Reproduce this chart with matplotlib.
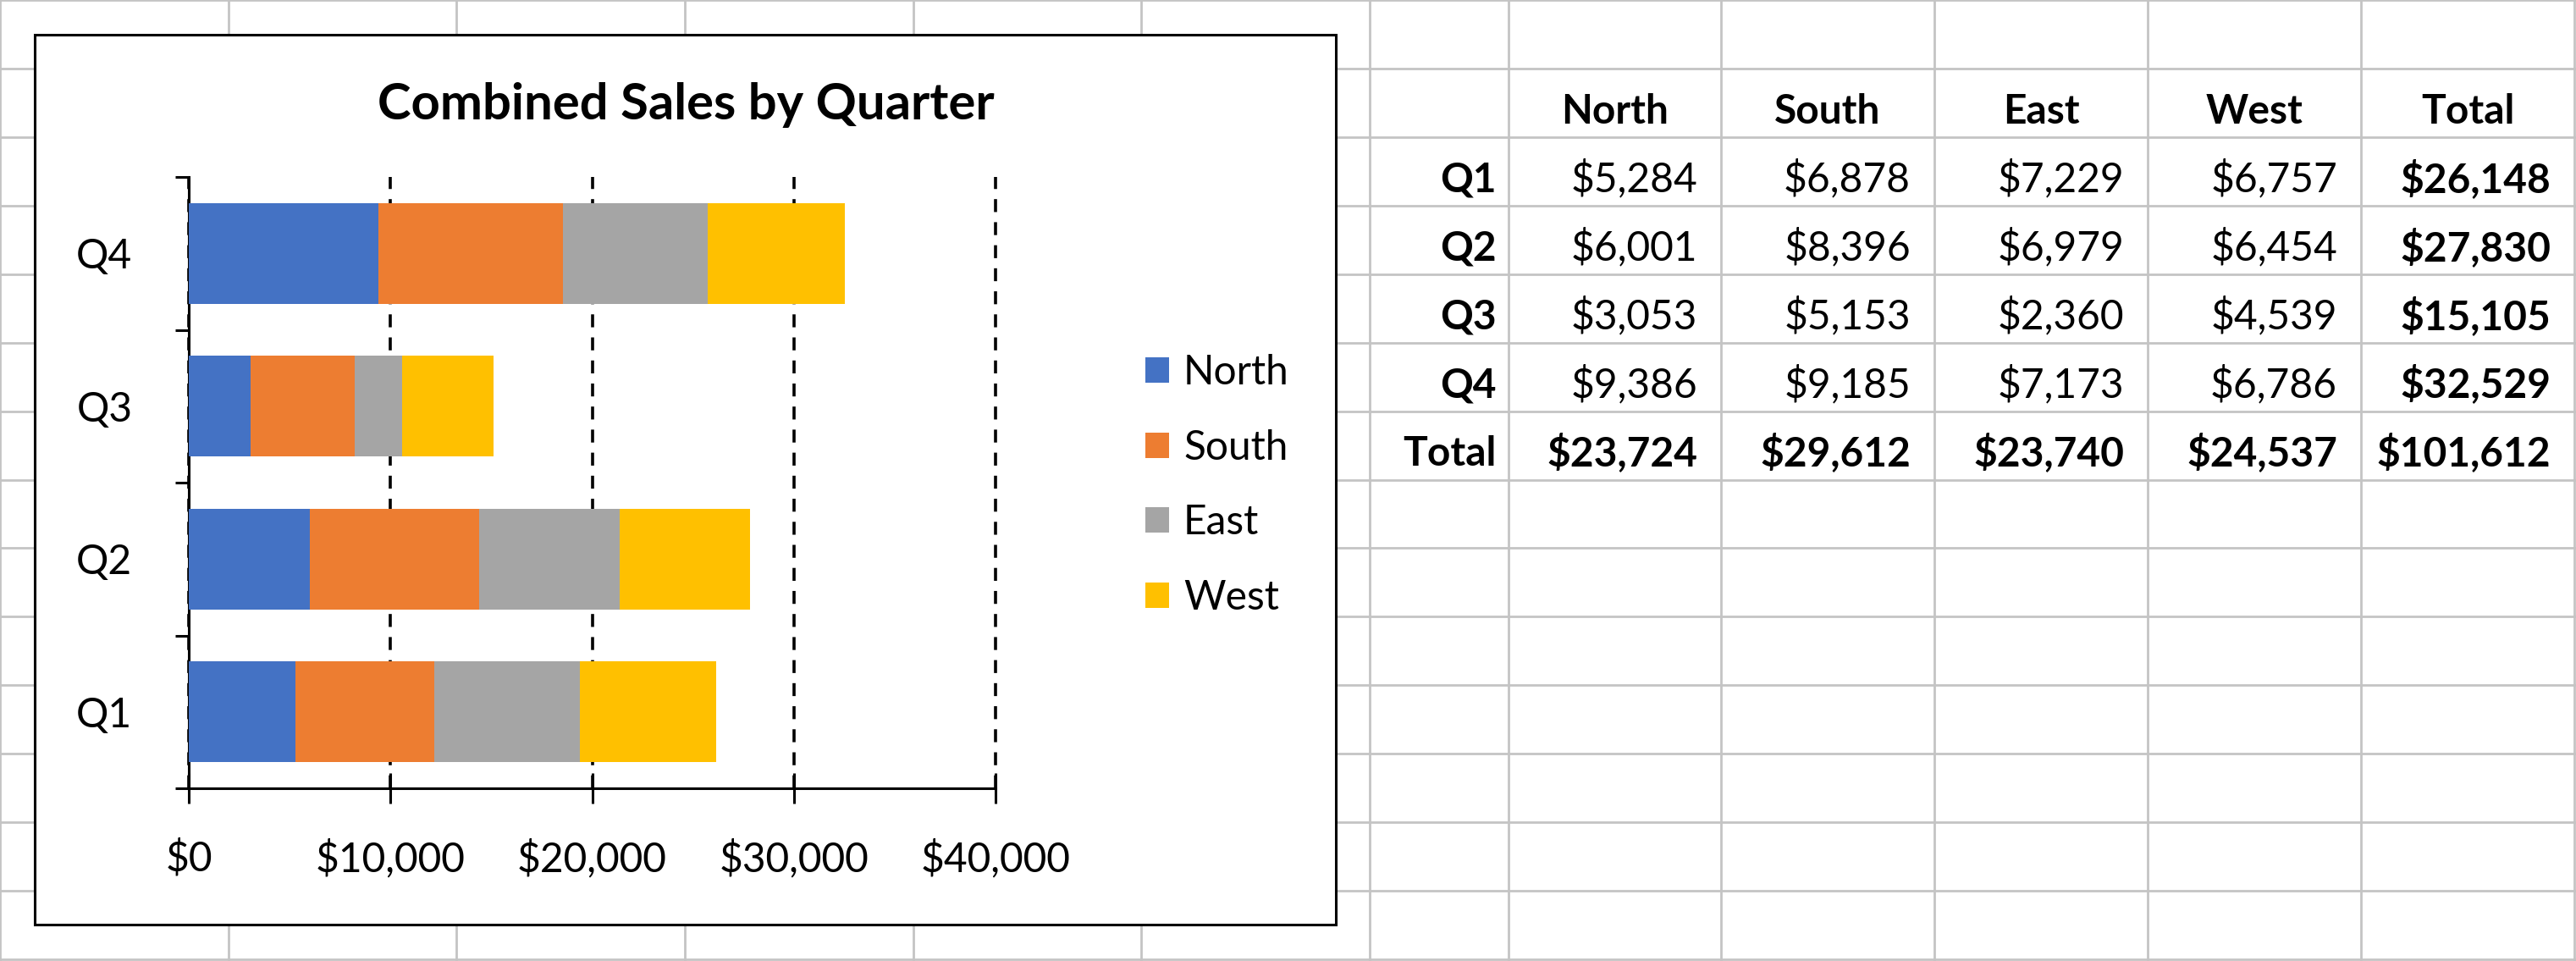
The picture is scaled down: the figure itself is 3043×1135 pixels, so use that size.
import numpy as np
import matplotlib
matplotlib.use("Agg")
from matplotlib import pyplot as plt
from matplotlib.patches import Rectangle

# data
quarters = ["Q1", "Q2", "Q3", "Q4"]
regions = ["North", "South", "East", "West"]
north = [5284, 6001, 3053, 9386]
south = [6878, 8396, 5153, 9185]
east = [7229, 6979, 2360, 7173]
west = [6757, 6454, 4539, 6786]
# totals as shown in the sheet (cells hold unrounded values)
quarter_totals = [26148, 27830, 15105, 32529]
region_totals = [23724, 29612, 23740, 24537]
grand_total = 101612
colors = ["#4472C4", "#ED7D31", "#A5A5A5", "#FFC000"]
x_ticks = [0, 10000, 20000, 30000, 40000]

W, H = 3043, 1135
plt.rcParams["font.family"] = ["Lato", "DejaVu Sans"]
plt.rcParams["lines.scale_dashes"] = False

fig = plt.figure(figsize=(W / 100, H / 100), dpi=100)

# spreadsheet background, pixel coords
bg = fig.add_axes([0, 0, 1, 1])
bg.set_xlim(0, W)
bg.set_ylim(H, 0)
bg.axis("off")

grid_c = "#c4c4c4"
col_edges = list(np.linspace(0, 1618, 7)) + [1782, 2033, 2285, 2537, 2789, 3041]
row_edges = np.linspace(0, 1133, 15)
for x in col_edges:
    bg.axvline(x, color=grid_c, lw=2, zorder=1)
for y in row_edges:
    bg.axhline(y, color=grid_c, lw=2, zorder=1)

# table
series = [north, south, east, west]
fs = 34.5

def money(v):
    return f"${v:,}"

val_cols = col_edges[7:]
hdr_base = row_edges[2] - 16
for i, name in enumerate(regions + ["Total"]):
    cx = (val_cols[i] + val_cols[i + 1]) / 2
    bg.text(cx, hdr_base, name, ha="center", va="baseline", fontsize=fs, fontweight="bold")

for r in range(5):
    base = row_edges[r + 3] - 16
    lab = quarters[r] if r < 4 else "Total"
    bg.text(col_edges[7] - 14, base, lab, ha="right", va="baseline", fontsize=fs, fontweight="bold")
    if r < 4:
        vals = [s[r] for s in series] + [quarter_totals[r]]
    else:
        vals = region_totals + [grand_total]
    for c, v in enumerate(vals):
        bold = r == 4 or c == 4
        bg.text(val_cols[c + 1] - 28, base, money(v), ha="right", va="baseline",
                fontsize=fs, fontweight="bold" if bold else "normal")

# chart area
bg.add_patch(Rectangle((41, 41), 1537, 1051, fc="white", ec="black", lw=2.2, zorder=3))
bg.text(810, 141, "Combined Sales by Quarter", ha="center", va="baseline",
        fontsize=43, fontweight="bold", zorder=4)

ax = fig.add_axes([223 / W, 1 - 931 / H, (1176 - 223) / W, (931 - 209) / H])
ax.set_zorder(5)
ax.patch.set_alpha(0)

ypos = np.arange(len(quarters))
left = np.zeros(len(quarters))
for name, vals, c in zip(regions, series, colors):
    ax.barh(ypos, vals, left=left, height=0.66, color=c, label=name, zorder=3)
    left += np.array(vals)

ax.set_xlim(0, 40000)
ax.set_ylim(-0.5, 3.5)
ax.set_axisbelow(True)
ax.set_xticks(x_ticks)
ax.set_xticklabels([money(t) for t in x_ticks])
ax.xaxis.grid(True, color="black", lw=2.6, linestyle=(0, (11, 8.6)))
for gl in ax.get_xgridlines():
    gl.set_clip_on(False)
for s in ["top", "right"]:
    ax.spines[s].set_visible(False)
for s in ["left", "bottom"]:
    ax.spines[s].set_linewidth(2.2)
ax.tick_params(axis="x", direction="inout", length=26.6, width=2.2, pad=30, labelsize=fs)

ax.set_yticks(np.arange(-0.5, 4, 1))
ax.set_yticklabels([])
ax.tick_params(axis="y", which="major", direction="out", length=11.5, width=2.2)
ax.set_yticks(ypos, minor=True)
ax.set_yticklabels(quarters, minor=True)
ax.tick_params(axis="y", which="minor", length=0, pad=48, labelsize=fs)

ax.legend(loc="center left", bbox_to_anchor=(1353 / W, 1 - 573 / H),
          bbox_transform=fig.transFigure, frameon=False, fontsize=fs,
          handlelength=0.58, handleheight=0.58, handletextpad=0.36,
          labelspacing=0.93, borderpad=0, borderaxespad=0)

fig.savefig("out.png", dpi=100)
